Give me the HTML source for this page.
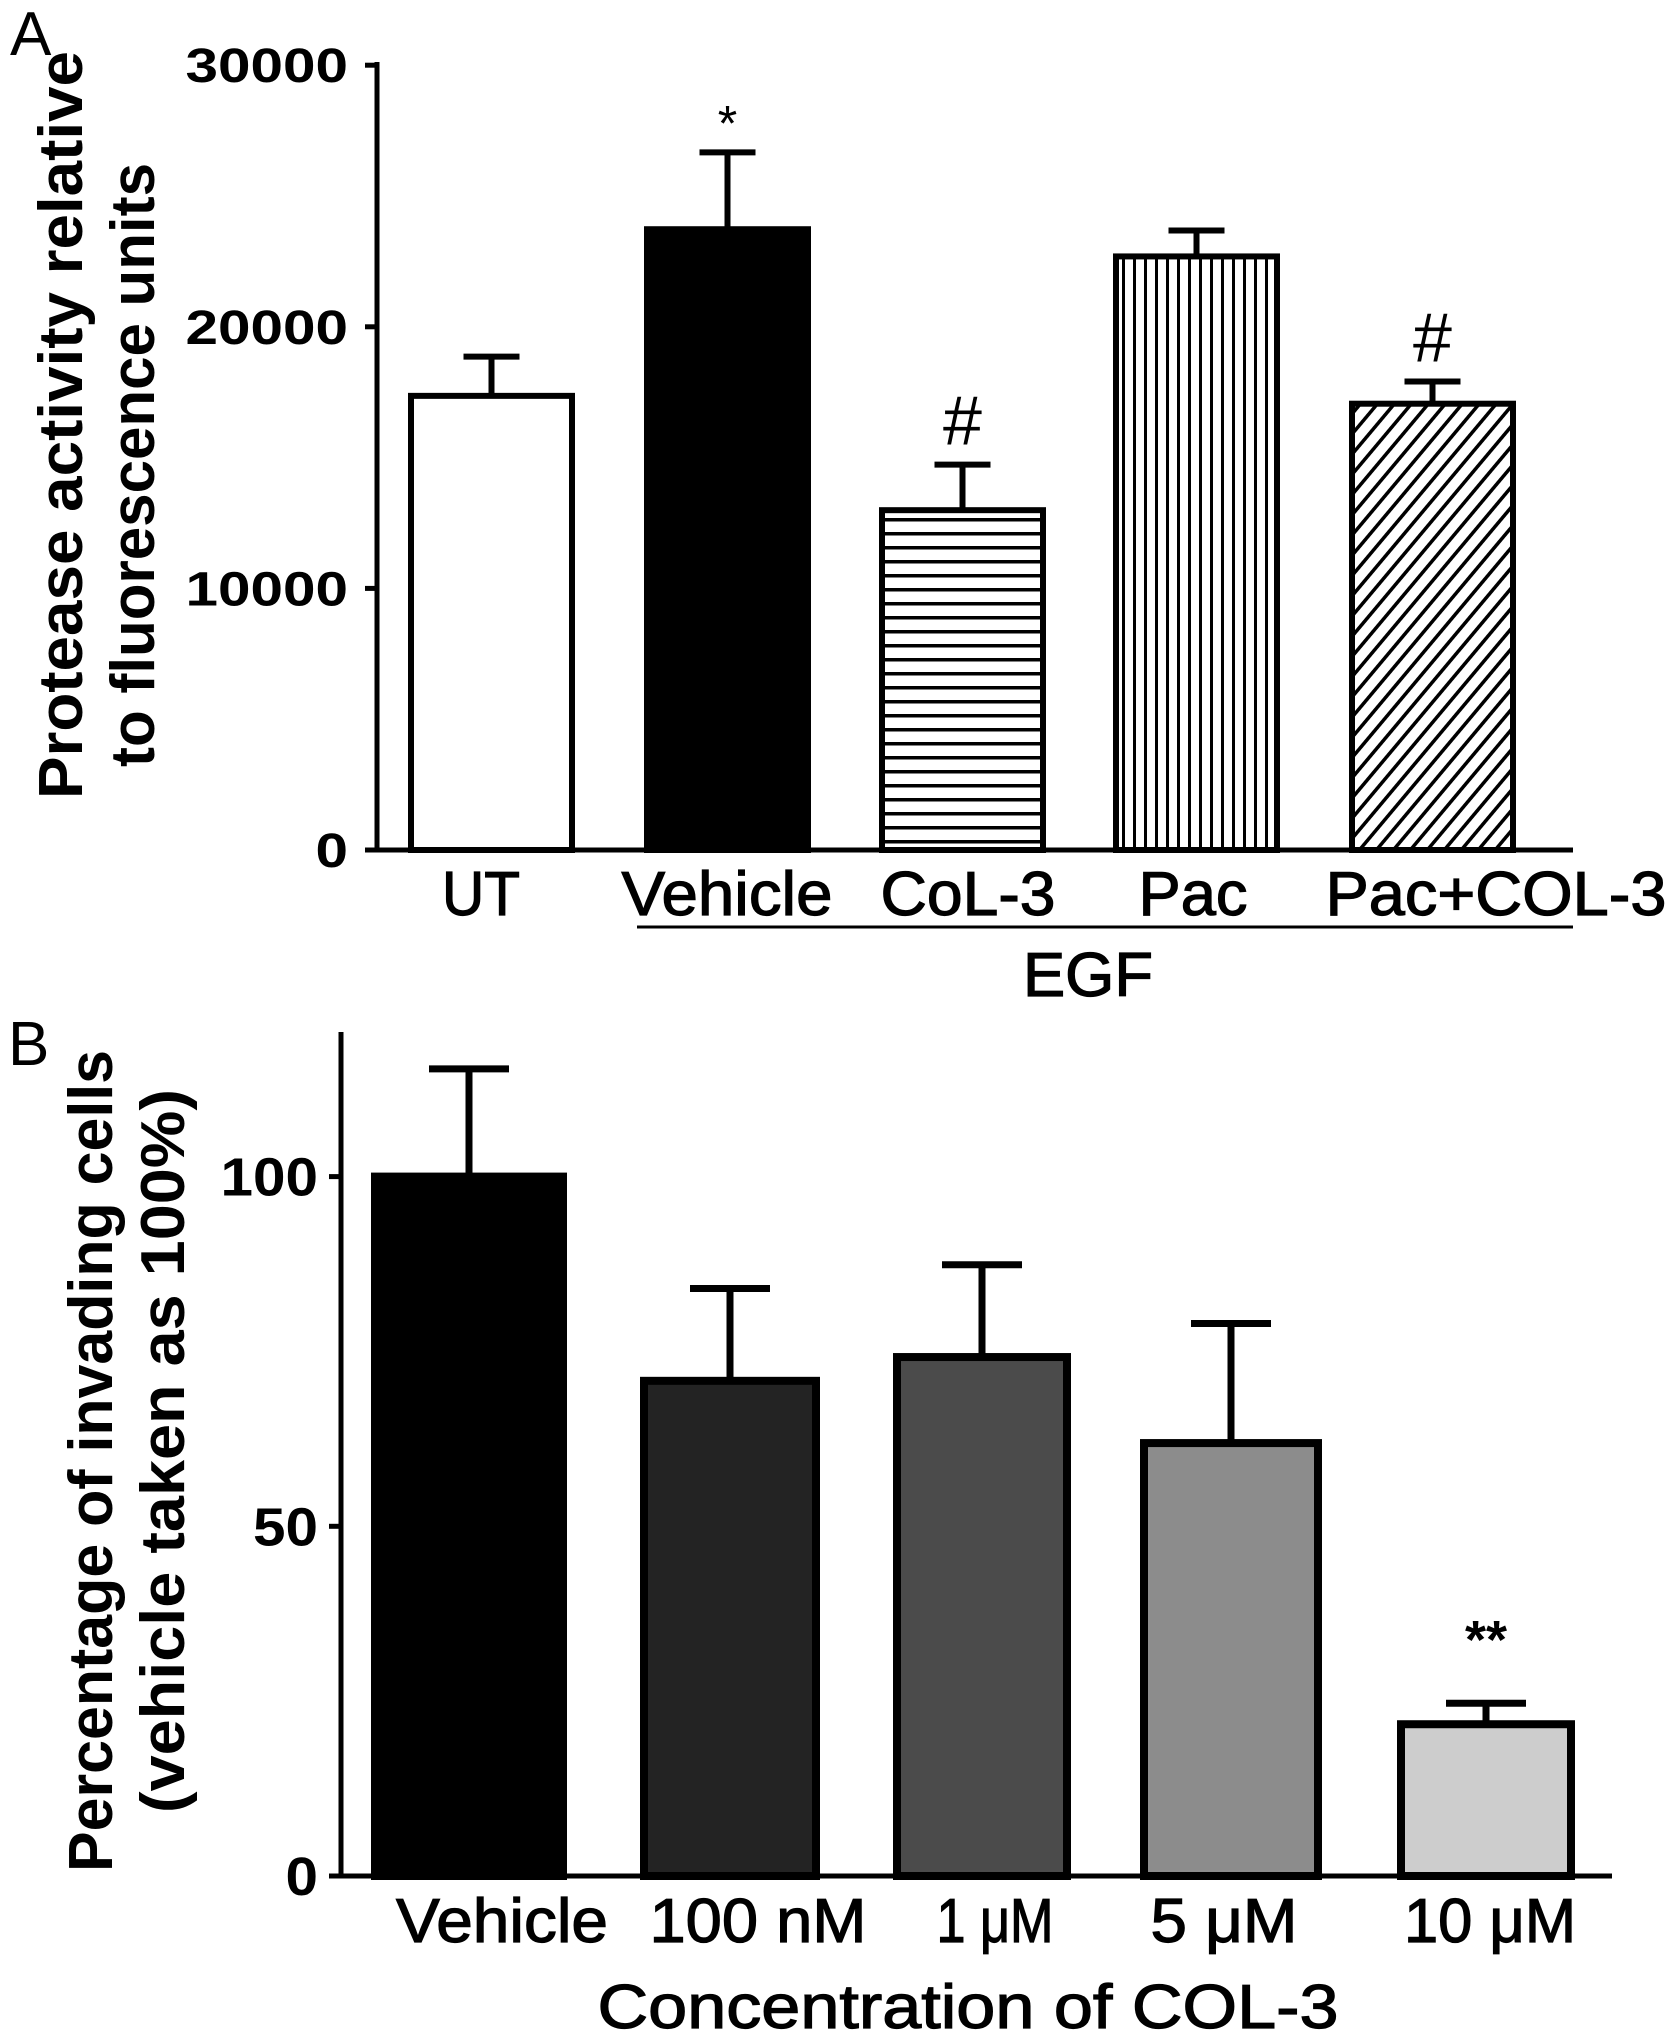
<!DOCTYPE html>
<html><head><meta charset="utf-8"><style>
html,body{margin:0;padding:0;background:#fff;}
svg{display:block;}
text{font-family:"Liberation Sans",sans-serif;font-weight:bold;}
.n{font-weight:normal;}
</style></head><body>
<svg id="c" width="1677" height="2037" viewBox="0 0 1677 2037" xmlns="http://www.w3.org/2000/svg">
<defs>
<pattern id="ph" width="10" height="14" patternUnits="userSpaceOnUse"><rect width="10" height="14" fill="#fff"/><rect y="0" width="10" height="3.5" fill="#000"/></pattern>
<pattern id="pv" width="11" height="10" patternUnits="userSpaceOnUse"><rect width="11" height="10" fill="#fff"/><rect x="0" width="3" height="10" fill="#000"/></pattern>
<pattern id="pd" width="13" height="13" patternUnits="userSpaceOnUse" patternTransform="rotate(40)"><rect width="13" height="13" fill="#fff"/><rect width="3.5" height="13" fill="#000"/></pattern>
</defs>
<text x="10" y="55" font-size="62" class="n">A</text>
<text x="8" y="1065" font-size="62" class="n">B</text>
</svg>
<script>
const aCats=["UT","Vehicle","CoL-3","Pac","Pac+COL-3"];
const aVals=[17360,23730,12990,22690,17060];
const aErr=[1500,2940,1740,990,850];
const aTicks=[0,10000,20000,30000];
const aMarks=["","*","#","","#"];
const bCats=["Vehicle","100 nM","1 μM","5 μM","10 μM"];
const bVals=[100,70.8,74.2,61.9,21.7];
const bErr=[15.4,13.2,13.2,17.1,3.0];
const bTicks=[0,50,100];
const bMarks=["","","","","**"];
const NS="http://www.w3.org/2000/svg";
const svg=document.getElementById('c');
function mk(tag,attrs,parent){const e=document.createElementNS(NS,tag);for(const k in attrs)e.setAttribute(k,attrs[k]);(parent||svg).appendChild(e);return e;}
function txt(s,attrs){const e=mk('text',attrs);e.textContent=s;return e;}

// Panel A
const aY=v=>850-v/10000*261.6;
const aX0=[411,647,882,1116,1352], aW=161;
const aFill=["#fff","#000","url(#ph)","url(#pv)","url(#pd)"];
const aLabX=[481,727,968,1193,1496], aLabW=[78,211,175,109,341];
let g=mk('g',{});


let ax=mk('line',{x1:377,y1:62,x2:377,y2:852,stroke:'#000','stroke-width':5},g);


ax=mk('line',{x1:375,y1:850,x2:1573,y2:850,stroke:'#000','stroke-width':5},g);


aTicks.forEach(t=>{
  const tk=mk('line',{x1:365,y1:aY(t),x2:377,y2:aY(t),stroke:'#000','stroke-width':5},g);
  
  
  const s=String(t);
  const tl=txt(s,{x:348,y:aY(t)+17,'font-size':48,'text-anchor':'end',textLength:s.length*32.5,lengthAdjust:'spacingAndGlyphs'});
  
  
});
aVals.forEach((v,i)=>{
  const x=aX0[i],cx=x+aW/2,top=aY(v),et=aY(v+aErr[i]);
  const eb=mk('path',{d:`M${cx} ${top} V${et} M${cx-28} ${et} H${cx+28}`,stroke:'#000','stroke-width':6,fill:'none'},g);
  
  
  const r=mk('rect',{x:x,y:top,width:aW,height:850-top,fill:aFill[i],stroke:'#000','stroke-width':6},g);
  
  
  const l=txt(aCats[i],{x:aLabX[i],y:915,'font-size':62,'text-anchor':'middle',class:'n','stroke':'#000','stroke-width':1.2,textLength:aLabW[i],lengthAdjust:'spacingAndGlyphs'});
  
  
  if(aMarks[i]){
    const star=aMarks[i]=='*';
    const m=txt(aMarks[i],{x:cx,y:et-(star?12:20),'font-size':star?50:70,'text-anchor':'middle',class:'n'});
    
    
  }
});
let eg=mk('line',{x1:637,y1:927,x2:1573,y2:927,stroke:'#000','stroke-width':3});


eg=txt('EGF',{x:1088,y:996,'font-size':62,'text-anchor':'middle',class:'n','stroke':'#000','stroke-width':1.2,textLength:130,lengthAdjust:'spacingAndGlyphs'});


let yt=txt('Protease activity relative',{x:0,y:0,'font-size':62,'text-anchor':'middle',textLength:748,lengthAdjust:'spacingAndGlyphs',transform:'translate(82,425) rotate(-90)'});


yt=txt('to fluorescence units',{x:0,y:0,'font-size':62,'text-anchor':'middle',textLength:604,lengthAdjust:'spacingAndGlyphs',transform:'translate(154,465) rotate(-90)'});



// Panel B
const bY=v=>1876-v/50*349.7;
const bX0=[375,644,897,1144,1401], bW=[188,172,170,174,170];
const bFill=["#000","#232323","#4b4b4b","#8c8c8c","#cdcdcd"];
const bLabX=[502,758,995,1224,1490], bLabW=[212,217,117,147,172];
g=mk('g',{});


ax=mk('line',{x1:341,y1:1032,x2:341,y2:1878,stroke:'#000','stroke-width':5},g);


ax=mk('line',{x1:339,y1:1876,x2:1612,y2:1876,stroke:'#000','stroke-width':5},g);


bTicks.forEach(t=>{
  const tk=mk('line',{x1:329,y1:bY(t),x2:341,y2:bY(t),stroke:'#000','stroke-width':5},g);
  
  
  const s=String(t);
  const tl=txt(s,{x:318,y:bY(t)+19,'font-size':54,'text-anchor':'end',textLength:s.length*32.5,lengthAdjust:'spacingAndGlyphs'});
  
  
});
bVals.forEach((v,i)=>{
  const x=bX0[i],w=bW[i],cx=x+w/2,top=bY(v),et=bY(v+bErr[i]);
  const eb=mk('path',{d:`M${cx} ${top} V${et} M${cx-40} ${et} H${cx+40}`,stroke:'#000','stroke-width':7,fill:'none'},g);
  
  
  const r=mk('rect',{x:x,y:top,width:w,height:1876-top,fill:bFill[i],stroke:'#000','stroke-width':8},g);
  
  
  const l=txt(bCats[i],{x:bLabX[i],y:1942,'font-size':62,'text-anchor':'middle',class:'n','stroke':'#000','stroke-width':1.2,textLength:bLabW[i],lengthAdjust:'spacingAndGlyphs'});
  
  
  if(bMarks[i]){
    const m=txt(bMarks[i],{x:cx,y:et-45,'font-size':54,'text-anchor':'middle'});
    
    
  }
});
let xt=txt('Concentration of COL-3',{x:968,y:2028,'font-size':62,'text-anchor':'middle',class:'n','stroke':'#000','stroke-width':1.2,textLength:741,lengthAdjust:'spacingAndGlyphs'});


yt=txt('Percentage of invading cells',{x:0,y:0,'font-size':62,'text-anchor':'middle',textLength:822,lengthAdjust:'spacingAndGlyphs',transform:'translate(112,1461) rotate(-90)'});


yt=txt('(vehicle taken as 100%)',{x:0,y:0,'font-size':62,'text-anchor':'middle',textLength:724,lengthAdjust:'spacingAndGlyphs',transform:'translate(184,1451) rotate(-90)'});


</script>
</body></html>
